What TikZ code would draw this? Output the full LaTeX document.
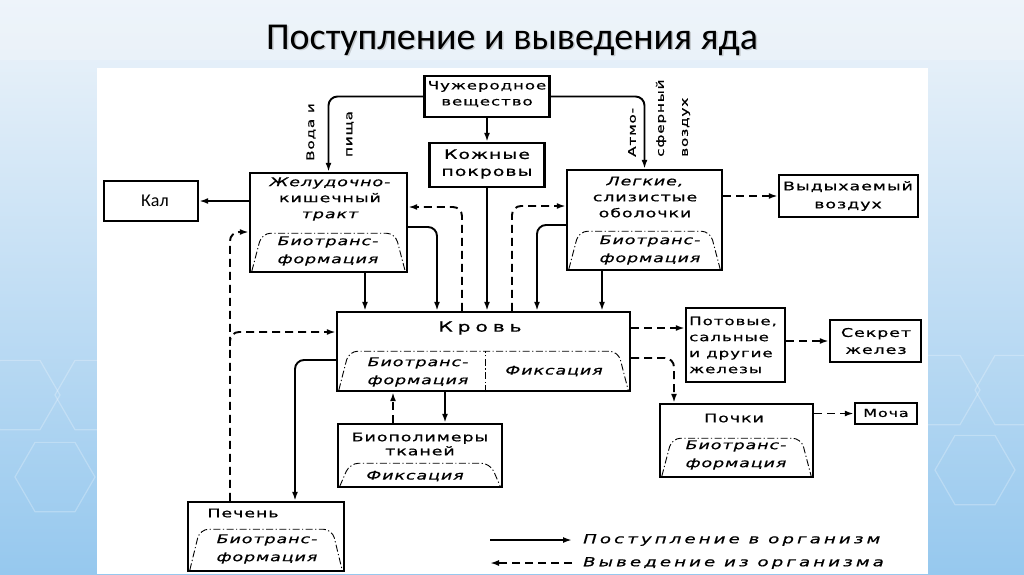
\documentclass[tikz,border=0pt]{standalone}
\usepackage{fontspec}
\usetikzlibrary{arrows.meta,calc}
\newfontfamily\handup[FakeStretch=1.45,LetterSpace=8,FakeBold=0.7]{DejaVu Sans}
\newfontfamily\handit[FakeStretch=1.45,LetterSpace=8,FakeBold=0.7]{DejaVu Sans Oblique}
\newfontfamily\handwide[FakeStretch=1.45,LetterSpace=35,FakeBold=0.7]{DejaVu Sans}
\newfontfamily\legfont[FakeStretch=1.45,LetterSpace=25,FakeBold=0.7]{DejaVu Sans Oblique}
\newfontfamily\calib{Carlito}
\definecolor{bgtop}{RGB}{238,244,250}
\definecolor{bgbot}{RGB}{150,200,238}
\newcommand{\myarch}[2]{\draw[archline] ($(#1.south west)+(3,-2)$) -- ($(#1.south west)+(13,#2)$) -- ($(#1.south east)+(-13,#2)$) -- ($(#1.south east)+(-3,-2)$);}
\begin{document}
\begin{tikzpicture}[x=1pt,y=-1pt,
  box/.style={draw, line width=2.4pt, inner sep=0pt},
  txt/.style={inner sep=0pt, align=center, font=\handup\fontsize{12}{16}\selectfont},
  itx/.style={inner sep=0pt, align=center, font=\handit\fontsize{12}{18}\selectfont},
  rot/.style={inner sep=0pt, rotate=90, font=\handup\fontsize{10.5}{12}\selectfont},
  con/.style={line width=1.9pt, -{Latex[length=9pt,width=6pt]}, rounded corners=9pt},
  dcon/.style={con, dash pattern=on 8pt off 5pt},
  archline/.style={line width=0.9pt, dash pattern=on 7pt off 2.5pt on 1.2pt off 2.5pt, rounded corners=9pt},
  hexl/.style={white, opacity=0.25, line width=1.2pt}]
\useasboundingbox (0,0) rectangle (1024,574);
% background
\shade[top color=bgtop, bottom color=bgbot] (0,0) rectangle (1024,574);
\fill[bgtop, opacity=0.6] (0,0) rectangle (1024,60);
\foreach \cx/\cy in {55/477, 20/395, 95/395, 975/470, 1015/390, 940/390}
  \draw[hexl] (\cx,\cy) +(0:40) -- +(60:40) -- +(120:40) -- +(180:40) -- +(240:40) -- +(300:40) -- cycle;
\fill[white] (97,68) rectangle (928,574);
% title
\node[font=\calib\fontsize{38}{44}\selectfont, text=black!50, opacity=0.35] (titleshadow) at (513.5,41.5) {Поступление и выведения яда};
\node[font=\calib\fontsize{38}{44}\selectfont, text=black] (title) at (512,40) {Поступление и выведения яда};
% boxes
\node[box, minimum width=125pt, minimum height=41pt] (src) at (487,96.5) {};
\node[box, minimum width=115pt, minimum height=44pt] (skin) at (487,165) {};
\node[box, minimum width=157pt, minimum height=99pt] (gi) at (328.5,222.5) {};
\node[box, minimum width=94pt, minimum height=40pt] (kal) at (151,201) {};
\node[box, minimum width=155pt, minimum height=100pt] (lung) at (644.5,220) {};
\node[box, minimum width=139pt, minimum height=42pt] (exh) at (848.5,196) {};
\node[box, minimum width=293pt, minimum height=79pt] (blood) at (483.5,351.5) {};
\node[box, minimum width=164pt, minimum height=63pt] (bio) at (420,455.5) {};
\node[box, minimum width=156pt, minimum height=69pt] (liver) at (266,536.5) {};
\node[box, minimum width=99pt, minimum height=74pt] (sweat) at (735.5,345) {};
\node[box, minimum width=91pt, minimum height=42pt] (secr) at (875.5,341) {};
\node[box, minimum width=153pt, minimum height=73pt] (kid) at (736.5,440.5) {};
\node[box, minimum width=62pt, minimum height=21pt] (urine) at (886,413.5) {};
% arches
\myarch{gi}{-40}
\myarch{lung}{-40}
\myarch{blood}{-41}
\myarch{bio}{-25}
\myarch{liver}{-43}
\myarch{kid}{-40}
\draw[archline] ($(blood.south)+(1.5,0)$) -- ($(blood.south)+(1.5,-41)$);
% texts
\node[txt, font=\handup\fontsize{11.5}{16}\selectfont] (tsrc) at (487,94) {Чужеродное\\вещество};
\node[txt, font=\handup\fontsize{13}{17}\selectfont] (tskin) at (487,164) {Кожные\\покровы};
\node[txt] (tgi) at (330,199) {{\handit Желудочно-}\\кишечный\\{\handit тракт}};
\node[itx] (tgib) at (328,251) {Биотранс-\\формация};
\node[txt] (tlung) at (645,197) {{\handit Легкие,}\\слизистые\\оболочки};
\node[itx] (tlungb) at (650,250) {Биотранс-\\формация};
\node[txt, font=\handup\fontsize{12}{18}\selectfont] (texh) at (848,196) {Выдыхаемый\\воздух};
\node[inner sep=0pt, font=\calib\fontsize{18}{20}\selectfont] (tkal) at (155,201) {Кал};
\node[inner sep=0pt, font=\handwide\fontsize{14}{16}\selectfont] (tblood) at (480,328) {Кровь};
\node[itx] (tbloodb) at (418,372) {Биотранс-\\формация};
\node[itx] (tbloodc) at (554,371) {Фиксация};
\node[txt, font=\handup\fontsize{12}{14}\selectfont] (tbio) at (420,444) {Биополимеры\\тканей};
\node[itx] (tbiob) at (415,476) {Фиксация};
\node[txt] (tliver) at (243,513) {Печень};
\node[itx] (tliverb) at (267,549) {Биотранс-\\формация};
\node[txt, align=left, anchor=west, font=\handup\fontsize{11.5}{16}\selectfont] (tsweat) at (689,345) {Потовые,\\сальные\\и другие\\железы};
\node[txt, font=\handup\fontsize{12}{17}\selectfont] (tsecr) at (876,341) {Секрет\\желез};
\node[txt] (tkid) at (734,418) {Почки};
\node[itx] (tkidb) at (736,455) {Биотранс-\\формация};
\node[txt, font=\handup\fontsize{11}{12}\selectfont] (turine) at (886,413) {Моча};
% rotated labels
\node[rot] (lw1) at (311,132) {Вода и};
\node[rot] (lw2) at (350,134) {пища};
\node[rot, anchor=west] (la1) at (632,157) {Атмо-};
\node[rot, anchor=west] (la2) at (661,157) {сферный};
\node[rot, anchor=west] (la3) at (686,157) {воздух};
% coordinates
\coordinate (gA) at ($(gi.south)+(36.5,0)$);
\coordinate (gB) at ($(gi.east)+(0,4.5)$);
\coordinate (bB) at ($(blood.north)+(-46.5,0)$);
\coordinate (bC) at ($(blood.north)+(-21.5,0)$);
\coordinate (gC) at ($(gi.east)+(0,-15.5)$);
\coordinate (bD) at ($(blood.north)+(28.5,0)$);
\coordinate (lD) at ($(lung.west)+(0,-14)$);
\coordinate (lE) at ($(lung.west)+(0,5)$);
\coordinate (bE) at ($(blood.north)+(53.5,0)$);
\coordinate (lF) at ($(lung.south)+(-42.5,0)$);
\coordinate (pA) at ($(liver.north)+(-36,0)$);
\coordinate (gG) at ($(gi.west)+(0,9.5)$);
\coordinate (pB) at ($(liver.north)+(-36,-155)$);
\coordinate (bH) at ($(blood.west)+(0,-19.5)$);
\coordinate (bI) at ($(blood.west)+(0,8.5)$);
\coordinate (pC) at ($(liver.north)+(29,0)$);
\coordinate (oA) at ($(bio.north)+(-27,0)$);
\coordinate (bJ) at ($(blood.south)+(-38.5,0)$);
\coordinate (bK) at ($(blood.east)+(0,-23.5)$);
\coordinate (bL) at ($(blood.east)+(0,6.5)$);
\coordinate (kA) at ($(kid.north)+(-62.5,0)$);
% connectors
\draw[con] (src.west) -| (gi.north);
\draw[con] (src.east) -| (lung.north);
\draw[con] (src.south) -- (skin.north);
\draw[con] (skin.south) -- (skin.south |- blood.north);
\draw[con] (gi.west |- kal.east) -- (kal.east);
\draw[con] (gA) -- (gA |- blood.north);
\draw[con] (gB) -| (bB);
\draw[dcon] (bC) |- (gC);
\draw[dcon] (bD) |- (lD);
\draw[con] (lE) -| (bE);
\draw[con] (lF) -- (lF |- blood.north);
\draw[dcon] (lung.east |- exh.west) -- (exh.west);
\draw[dcon] (pA) |- (gG);
\draw[dcon] (pB) |- (bH);
\draw[con] (bI) -| (pC);
\draw[dcon] (oA) -- (oA |- blood.south);
\draw[con] (bJ) -- (bJ |- bio.north);
\draw[dcon] (bK) -- (bK -| sweat.west);
\draw[dcon] (bL) -| (kA);
\draw[dcon] (sweat.east |- secr.west) -- (secr.west);
\draw[dcon] (kid.east |- urine.west) -- (urine.west);
% legend
\coordinate (lg1) at (490,540);
\coordinate (lg2) at (572,540);
\coordinate (lg3) at (572,563);
\coordinate (lg4) at (490,563);
\draw[con] (lg1) -- (lg2);
\draw[dcon] (lg3) -- (lg4);
\node[inner sep=0pt, anchor=west, font=\legfont\fontsize{12.5}{14}\selectfont] (leg1) at (583,540) {Поступление в организм};
\node[inner sep=0pt, anchor=west, font=\legfont\fontsize{12.5}{14}\selectfont] (leg2) at (583,563) {Выведение из организма};
\end{tikzpicture}
\end{document}
